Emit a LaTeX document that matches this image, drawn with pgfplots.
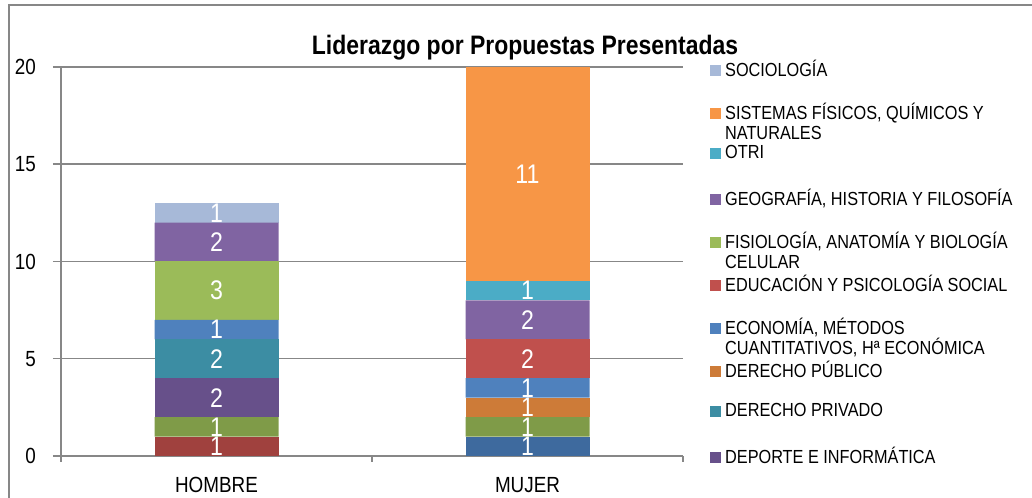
\documentclass[border=0pt]{standalone}
\usepackage{pgfplots}
\pgfplotsset{compat=1.18}
\usepackage{fontspec}
\setmainfont{Liberation Sans}[FakeStretch=0.86]

\definecolor{cSoc}{HTML}{A7B9D8}
\definecolor{cSis}{HTML}{F79646}
\definecolor{cOtri}{HTML}{4BACC6}
\definecolor{cGeo}{HTML}{8064A2}
\definecolor{cFis}{HTML}{9BBB59}
\definecolor{cEdu}{HTML}{C0504D}
\definecolor{cEco}{HTML}{4F81BD}
\definecolor{cDPub}{HTML}{CD7B38}
\definecolor{cDPri}{HTML}{3C8DA3}
\definecolor{cDep}{HTML}{67508A}
\definecolor{cRojo}{HTML}{A0413E}
\definecolor{cAzul}{HTML}{3E6A9E}
\definecolor{cOliva}{HTML}{7F9B48}
\definecolor{linegray}{HTML}{878787}

% one legend row = 21.5bp, marker on the first line's baseline
\newcommand{\leg}[1]{\parbox[t][21.5bp][t]{200bp}{\fontsize{9.5}{10.5}\selectfont #1}}

\begin{document}
\begin{tikzpicture}
\begin{axis}[
  name=ax,
  scale only axis, width=311bp, height=194.5bp,
  ybar stacked, bar width=62bp,
  xmin=-0.5, xmax=1.5, ymin=0, ymax=20,
  enlargelimits=false,
  axis lines*=left,
  axis line style={linegray, line width=0.75bp},
  xtick={0,1}, xticklabels={HOMBRE, MUJER},
  major x tick style={draw=none},
  minor xtick={-0.5,0.5,1.5},
  minor x tick style={linegray, line width=0.75bp},
  minor tick length=3bp,
  ytick={0,5,...,20},
  y tick style={linegray, line width=0.75bp},
  major tick length=4bp,
  tick align=outside,
  ymajorgrids, grid style={linegray, line width=0.75bp},
  /pgf/number format/assume math mode=true,
  ticklabel style={font=\fontsize{11}{13}\selectfont},
  yticklabel style={xshift=-5bp},
  xticklabel style={yshift=-3bp},
  title={Liderazgo por Propuestas Presentadas},
  title style={at={(0.746,1.02)}, anchor=center,
    font=\bfseries\fontsize{13.4}{15}\selectfont},
  reverse legend,
  legend cell align=left,
  legend image code/.code={\fill[#1] (0bp,0bp) rectangle (5.5bp,5.5bp);},
  legend style={at={(1.043,1.02)}, anchor=north west, draw=none, fill=none,
    row sep=0pt, column sep=2bp, inner sep=0pt,
    nodes={inner sep=0pt, text depth=, anchor=base west}},
]
% series whose names fall outside the legend
\addplot[fill=cRojo, draw=none, forget plot] coordinates {(0,1) (1,0)};
\addplot[fill=cAzul, draw=none, forget plot] coordinates {(0,0) (1,1)};
\addplot[fill=cOliva, draw=none, forget plot] coordinates {(0,1) (1,1)};
% named series
\addplot[fill=cDep, draw=none] coordinates {(0,2) (1,0)};
\addlegendentry{\leg{DEPORTE E INFORMÁTICA}}
\addplot[fill=cDPri, draw=none] coordinates {(0,2) (1,0)};
\addlegendentry{\leg{DERECHO PRIVADO}}
\addplot[fill=cDPub, draw=none] coordinates {(0,0) (1,1)};
\addlegendentry{\leg{DERECHO PÚBLICO}}
\addplot[fill=cEco, draw=none] coordinates {(0,1) (1,1)};
\addlegendentry{\leg{ECONOMÍA, MÉTODOS\\CUANTITATIVOS, Hª ECONÓMICA}}
\addplot[fill=cEdu, draw=none] coordinates {(0,0) (1,2)};
\addlegendentry{\leg{EDUCACIÓN Y PSICOLOGÍA SOCIAL}}
\addplot[fill=cFis, draw=none] coordinates {(0,3) (1,0)};
\addlegendentry{\leg{FISIOLOGÍA, ANATOMÍA Y BIOLOGÍA\\CELULAR}}
\addplot[fill=cGeo, draw=none] coordinates {(0,2) (1,2)};
\addlegendentry{\leg{GEOGRAFÍA, HISTORIA Y FILOSOFÍA}}
\addplot[fill=cOtri, draw=none] coordinates {(0,0) (1,1)};
\addlegendentry{\leg{OTRI}}
\addplot[fill=cSis, draw=none] coordinates {(0,0) (1,11)};
\addlegendentry{\leg{SISTEMAS FÍSICOS, QUÍMICOS Y\\NATURALES}}
\addplot[fill=cSoc, draw=none] coordinates {(0,1) (1,0)};
\addlegendentry{\leg{SOCIOLOGÍA}}
\end{axis}

% segment values, at the middle of each segment
\begin{axis}[
  scale only axis, width=311bp, height=194.5bp,
  xmin=-0.5, xmax=1.5, ymin=0, ymax=20,
  hide axis, clip=false,
]
\addplot[draw=none, mark=none, nodes near coords, point meta=explicit symbolic,
  every node near coord/.append style={anchor=center, inner sep=0pt, text=white,
    font=\fontsize{13.5}{15}\selectfont}]
  coordinates {
    (0,0.5) [1] (0,1.5) [1] (0,3) [2] (0,5) [2] (0,6.5) [1]
    (0,8.5) [3] (0,11) [2] (0,12.5) [1]
    (1,0.5) [1] (1,1.5) [1] (1,2.5) [1] (1,3.5) [1] (1,5) [2]
    (1,7) [2] (1,8.5) [1] (1,14.5) [11]
  };
\end{axis}

% chart frame (left and top edges visible)
\draw[linegray, line width=0.75bp]
  ([shift={(-26bp,-30bp)}]ax.south west) -- ([shift={(-26bp,225.5bp)}]ax.south west)
  -- ([shift={(490bp,225.5bp)}]ax.south west);
\pgfresetboundingbox
\path[use as bounding box] ([shift={(-30.5bp,-21bp)}]ax.south west)
  rectangle ([shift={(485.5bp,228bp)}]ax.south west);
\end{tikzpicture}
\end{document}
